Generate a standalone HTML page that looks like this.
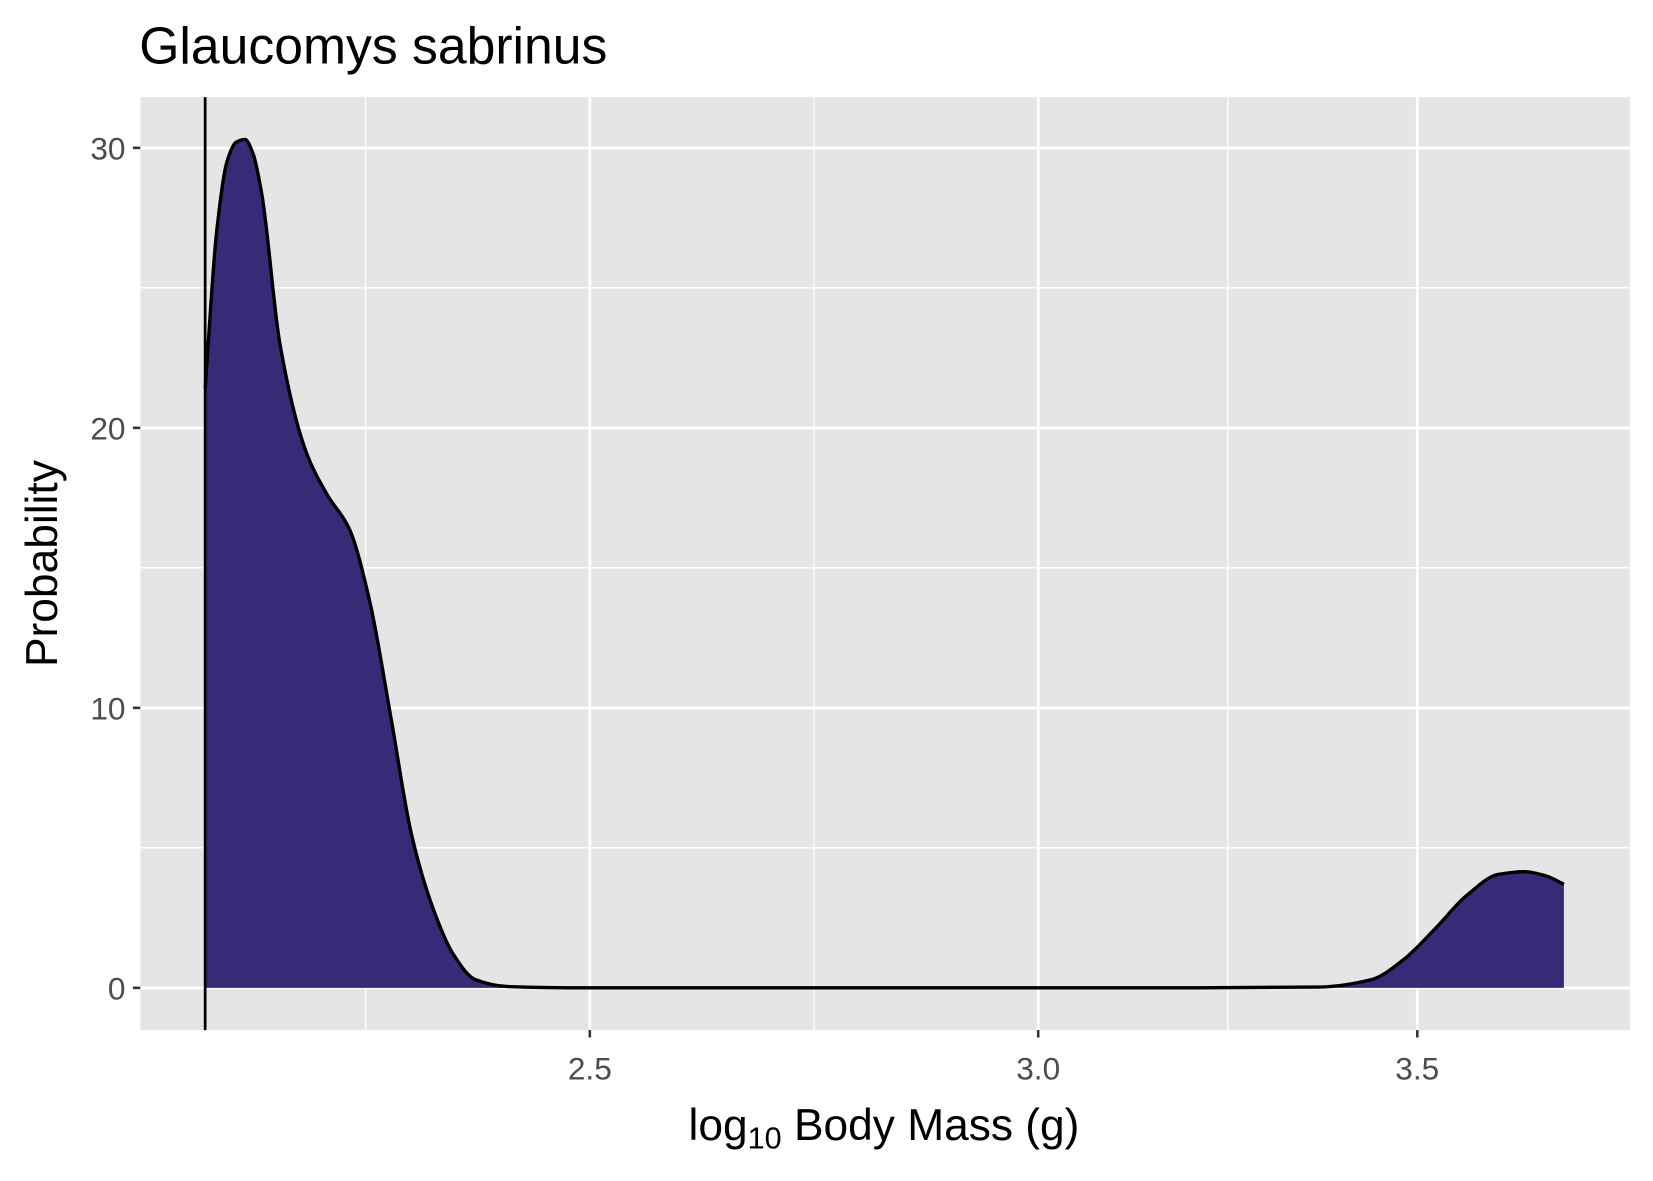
<!DOCTYPE html>
<html><head><meta charset="utf-8"><style>
html,body{margin:0;padding:0;background:#fff}
svg{display:block}
text{font-family:"Liberation Sans",Arial,sans-serif}
</style></head><body>
<svg id="chart" width="1653" height="1181" viewBox="0 0 1567 1119" preserveAspectRatio="none" xmlns="http://www.w3.org/2000/svg">
<text x="132" y="60" font-size="49" fill="#000">Glaucomys sabrinus</text>
<rect x="133" y="92" width="1412" height="884" fill="#e5e5e5"/>
<g id="grid"></g>
<g id="marks"></g>
<g id="axes"></g>
<text x="838" y="1080" font-size="42" text-anchor="middle" fill="#000">log<tspan font-size="29" dy="8">10</tspan><tspan dy="-8"> Body Mass (g)</tspan></text>
<text transform="translate(54,534) rotate(-90)" font-size="42" text-anchor="middle" fill="#000">Probability</text>
</svg>
<script>
const densityX = [2.138,2.148,2.157,2.165,2.173,2.180,2.188,2.204,2.228,2.247,2.267,2.286,2.306,2.325,2.345,2.365,2.386,2.417,2.5,2.656,2.8,3.021,3.2,3.363,3.436,3.480,3.525,3.571,3.617,3.656,3.688,3.715];
const densityY = [21.4,27.0,29.5,30.2,30.3,29.8,28.3,23.0,19.1,17.6,16.4,13.8,9.6,5.5,2.9,1.2,0.3,0.05,0.0,0.0,0.0,0.0,0.0,0.03,0.3,1.0,2.1,3.3,4.05,4.15,4.0,3.7];
const xTicks = [2.5,3.0,3.5];
const xTickLabels = ["2.5","3.0","3.5"];
const yTicks = [0,10,20,30];
const yTickLabels = ["0","10","20","30"];
const yMinor = [5,15,25];
const vlineX = 2.138;

const NS="http://www.w3.org/2000/svg";
const panel={l:133,r:1545,t:92,b:976};
function xs(v){return -1577+5368*Math.log10(v);}
function ys(v){return 936-26.53*v;}
function mk(tag,attrs,parent){const e=document.createElementNS(NS,tag);for(const k in attrs)e.setAttribute(k,attrs[k]);parent.appendChild(e);return e;}
const grid=document.getElementById('grid'),marks=document.getElementById('marks'),axes=document.getElementById('axes');
const xm=xTicks.map(xs);
const minorPx=[xm[0]-(xm[1]-xm[0])/2];
for(let i=0;i<xm.length-1;i++)minorPx.push((xm[i]+xm[i+1])/2);
minorPx.forEach(x=>{ if(x<=panel.l)return;
 const l=mk('line',{x1:x,x2:x,y1:panel.t,y2:panel.b,stroke:'#fff','stroke-width':1.3},grid);
 
 });
yMinor.forEach(v=>{const y=ys(v);
 const l=mk('line',{x1:panel.l,x2:panel.r,y1:y,y2:y,stroke:'#fff','stroke-width':1.3},grid);
 
 });
xTicks.forEach((v,i)=>{const x=xs(v);
 const l=mk('line',{x1:x,x2:x,y1:panel.t,y2:panel.b,stroke:'#fff','stroke-width':2.6},grid);
 
 
 const t=mk('line',{x1:x,x2:x,y1:panel.b,y2:panel.b+7,stroke:'#333','stroke-width':2.4},axes);
 
 
 const tx=mk('text',{x:x,y:panel.b+47,'font-size':30,'text-anchor':'middle',fill:'#4d4d4d'},axes);
 tx.textContent=xTickLabels[i];
 
 });
yTicks.forEach((v,i)=>{const y=ys(v);
 const l=mk('line',{x1:panel.l,x2:panel.r,y1:y,y2:y,stroke:'#fff','stroke-width':2.6},grid);
 
 
 const t=mk('line',{x1:panel.l-7,x2:panel.l,y1:y,y2:y,stroke:'#333','stroke-width':2.4},axes);
 
 
 const tx=mk('text',{x:panel.l-14,y:y+11,'font-size':30,'text-anchor':'end',fill:'#4d4d4d'},axes);
 tx.textContent=yTickLabels[i];
 
 });
const pts=densityX.map((v,i)=>[xs(v),ys(densityY[i])]);
function monotone(p){const n=p.length,dx=[],m=[],t=[];
 for(let i=0;i<n-1;i++){dx.push(p[i+1][0]-p[i][0]);m.push((p[i+1][1]-p[i][1])/dx[i]);}
 t[0]=m[0];t[n-1]=m[n-2];
 for(let i=1;i<n-1;i++){ if(m[i-1]*m[i]<=0)t[i]=0; else {const w1=2*dx[i]+dx[i-1],w2=dx[i]+2*dx[i-1];t[i]=(w1+w2)/(w1/m[i-1]+w2/m[i]);}}
 let d='M'+p[0][0]+','+p[0][1];
 for(let i=0;i<n-1;i++){const h=dx[i]/3;
  d+=' C'+(p[i][0]+h)+','+(p[i][1]+t[i]*h)+' '+(p[i+1][0]-h)+','+(p[i+1][1]-t[i+1]*h)+' '+p[i+1][0]+','+p[i+1][1];}
 return d;}
const curve=monotone(pts);
const base=ys(0);
const area=mk('path',{d:curve+' L'+pts[pts.length-1][0]+','+base+' L'+pts[0][0]+','+base+' Z',fill:'#382a77'},marks);


const line=mk('path',{d:curve,fill:'none',stroke:'#000','stroke-width':3.2,'stroke-linejoin':'round'},marks);


const vx=xs(vlineX);
const vl=mk('line',{x1:vx,x2:vx,y1:panel.t,y2:panel.b,stroke:'#000','stroke-width':2.6},marks);


</script>
</body></html>
